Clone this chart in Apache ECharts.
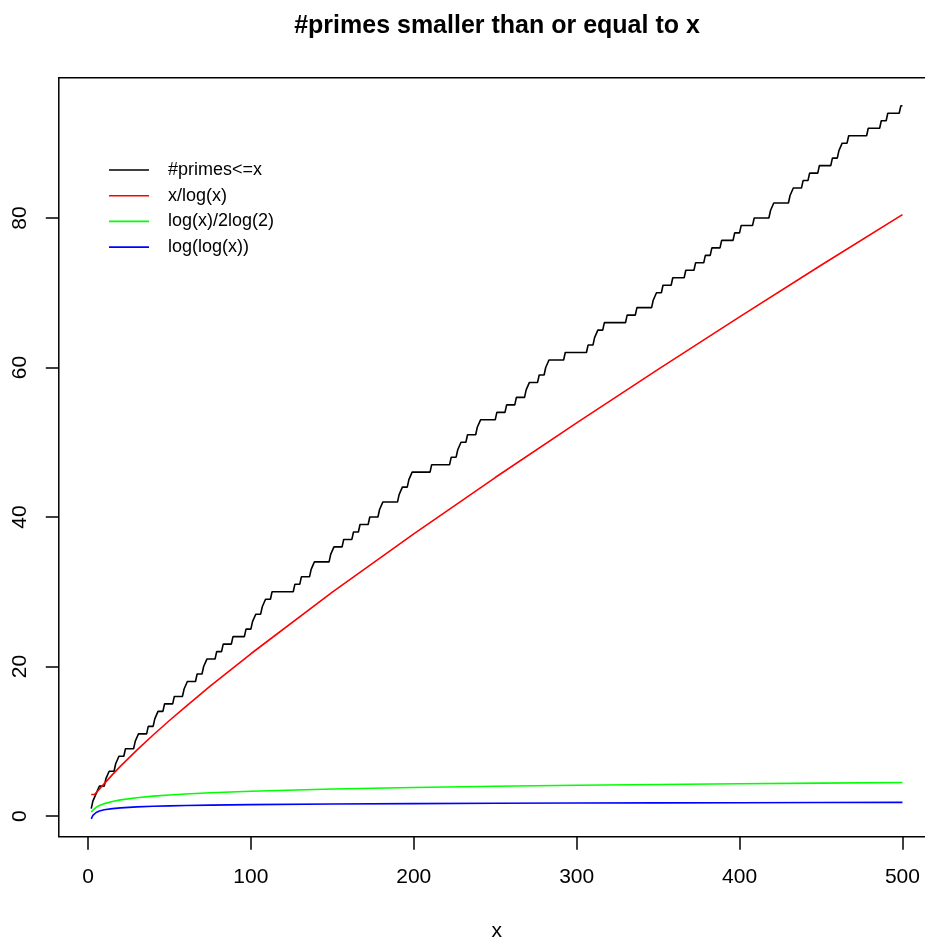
<!DOCTYPE html>
<html>
<head>
<meta charset="utf-8">
<script src="https://cdn.jsdelivr.net/npm/echarts@6/dist/echarts.min.js"></script>
<style>
  html, body { margin: 0; padding: 0; background: #fff; }
  #chart { width: 925px; height: 939px; }
</style>
</head>
<body>
<div id="chart"></div>
<script>
// primes up to 500 (the black step line jumps at each one)
var primes = [2, 3, 5, 7, 11, 13, 17, 19, 23, 29, 31, 37, 41, 43, 47, 53, 59, 61, 67, 71,
  73, 79, 83, 89, 97, 101, 103, 107, 109, 113, 127, 131, 137, 139, 149, 151, 157, 163, 167, 173,
  179, 181, 191, 193, 197, 199, 211, 223, 227, 229, 233, 239, 241, 251, 257, 263, 269, 271, 277, 281,
  283, 293, 307, 311, 313, 317, 331, 337, 347, 349, 353, 359, 367, 373, 379, 383, 389, 397, 401, 409,
  419, 421, 431, 433, 439, 443, 449, 457, 461, 463, 467, 479, 487, 491, 499];
var xEnd = 500;

// sampled x positions for the smooth curves
var xs = [2, 3, 4, 5, 7, 10, 15, 20, 30, 40, 50, 60, 75, 100, 150, 200, 250, 300, 350, 400, 450, 500];
var xOverLog = [2.885, 2.731, 2.885, 3.107, 3.597, 4.343, 5.539, 6.676, 8.820, 10.84, 12.78, 14.65,
  17.37, 21.71, 29.94, 37.75, 45.28, 52.60, 59.74, 66.76, 73.67, 80.45];
var logOver2log2 = [0.5, 0.792, 1.0, 1.161, 1.404, 1.661, 1.953, 2.161, 2.453, 2.661, 2.822, 2.953,
  3.114, 3.322, 3.614, 3.822, 3.983, 4.114, 4.225, 4.322, 4.407, 4.483];
var logLog = [-0.367, 0.094, 0.327, 0.476, 0.666, 0.834, 0.996, 1.097, 1.224, 1.305, 1.364, 1.410,
  1.460, 1.527, 1.612, 1.667, 1.709, 1.741, 1.768, 1.790, 1.809, 1.827];

var xTicks = [0, 100, 200, 300, 400, 500];
var yTicks = [0, 20, 40, 60, 80];
var seriesNames = ['#primes<=x', 'x/log(x)', 'log(x)/2log(2)', 'log(log(x))'];
var seriesColors = ['#000000', '#ff0000', '#00ff00', '#0000ff'];

// step line: value at integer x, risers go from (p-1, k-1) to (p, k)
var primeSteps = [[primes[0], 1]];
for (var i = 1; i < primes.length; i++) {
  primeSteps.push([primes[i] - 1, i]);
  primeSteps.push([primes[i], i + 1]);
}
primeSteps.push([xEnd, primes.length]);

function pairs(x, y) {
  return x.map(function (v, i) { return [v, y[i]]; });
}

var FONT = '"Liberation Sans", Arial, Helvetica, sans-serif';
var chart = echarts.init(document.getElementById('chart'), null, { renderer: 'canvas' });

var lineSeries = [primeSteps, pairs(xs, xOverLog), pairs(xs, logOver2log2), pairs(xs, logLog)]
  .map(function (d, i) {
    return {
      name: seriesNames[i],
      type: 'line',
      data: d,
      symbol: 'none',
      silent: true,
      lineStyle: { color: seriesColors[i], width: 1.6 },
      itemStyle: { color: seriesColors[i] }
    };
  });

chart.setOption({
  animation: false,
  backgroundColor: '#ffffff',
  textStyle: { fontFamily: FONT },
  graphic: [{
    type: 'text',
    x: 497,
    y: 26,
    style: {
      text: '#primes smaller than or equal to x',
      fill: '#000',
      font: 'bold 25px ' + FONT,
      align: 'center',
      verticalAlign: 'middle'
    }
  }],
  legend: {
    orient: 'vertical',
    left: 109,
    top: 161,
    padding: 0,
    icon: 'rect',
    itemWidth: 40,
    itemHeight: 1.6,
    itemGap: 7.7,
    selectedMode: false,
    data: seriesNames,
    textStyle: { fontSize: 18, color: '#000', fontFamily: FONT, padding: [0, 0, 0, 14] }
  },
  grid: {
    left: 58.8,
    top: 77.7,
    width: 876.1,
    height: 759,
    show: true,
    borderColor: '#000',
    borderWidth: 1.5,
    containLabel: false,
    outerBoundsMode: 'none'
  },
  xAxis: {
    type: 'value',
    min: -17.92,
    max: 519.92,
    name: 'x',
    nameLocation: 'middle',
    nameGap: 84,
    nameTextStyle: { fontSize: 21, color: '#000', fontFamily: FONT },
    axisLine: { show: false, onZero: false },
    splitLine: { show: false },
    axisTick: {
      show: true, inside: false, length: 13, customValues: xTicks,
      lineStyle: { color: '#000', width: 1.5 }
    },
    axisLabel: {
      customValues: xTicks, margin: 30, fontSize: 21, color: '#000', fontFamily: FONT
    }
  },
  yAxis: {
    type: 'value',
    min: -2.76,
    max: 98.76,
    axisLine: { show: false, onZero: false },
    splitLine: { show: false },
    axisTick: {
      show: true, inside: false, length: 13, customValues: yTicks,
      lineStyle: { color: '#000', width: 1.5 }
    },
    axisLabel: {
      customValues: yTicks, rotate: 90, margin: 28, fontSize: 21, color: '#000', fontFamily: FONT
    }
  },
  series: lineSeries
});
</script>
</body>
</html>
